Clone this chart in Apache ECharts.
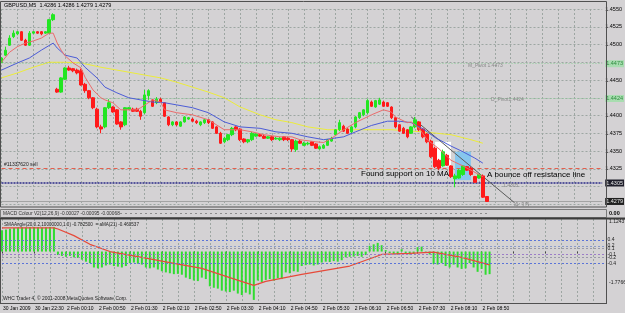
<!DOCTYPE html>
<html><head><meta charset="utf-8">
<script src="https://cdn.jsdelivr.net/npm/echarts@6/dist/echarts.min.js"></script>
<style>html,body{margin:0;padding:0;background:#D4D2D4;}#c{width:625px;height:313px;}</style>
</head><body><div id="c"></div>
<script>
// ---- data ----
const tickLabels = ["30 Jan 2009","30 Jan 22:30","2 Feb 00:10","2 Feb 00:50","2 Feb 01:30","2 Feb 02:10","2 Feb 02:50","2 Feb 03:30","2 Feb 04:10","2 Feb 04:50","2 Feb 05:30","2 Feb 06:10","2 Feb 06:50","2 Feb 07:30","2 Feb 08:10","2 Feb 08:50"];
const opens = [1.4475,1.4485,1.4499,1.4511,1.4515,1.4518,1.4506,1.4499,1.4516,1.4518,
1.4518,1.4516,1.4516,1.4535,1.4437,1.4433,1.4451,1.4467,1.4466,1.4464,
1.4463,1.4444,1.4435,1.4425,1.4409,1.4384,1.4384,1.4411,1.4412,1.4408,
1.4391,1.4387,1.4409,1.4409,1.4409,1.4406,1.4404,1.4428,1.4422,1.4418,
1.4423,1.4418,1.4398,1.4387,1.4391,1.4385,1.4391,1.4395,1.4395,1.4392,
1.4387,1.4390,1.4394,1.4391,1.4384,1.4375,1.4363,1.4366,1.4373,1.4384,
1.4381,1.4367,1.4363,1.4366,1.4371,1.4373,1.4371,1.4368,1.4370,1.4367,
1.4366,1.4370,1.4368,1.4366,1.4352,1.4364,1.4358,1.4360,1.4363,1.4360,
1.4353,1.4354,1.4358,1.4364,1.4373,1.4380,1.4385,1.4381,1.4377,1.4384,
1.4397,1.4401,1.4404,1.4419,1.4412,1.4416,1.4419,1.4418,1.4412,1.4397,
1.4387,1.4382,1.4380,1.4375,1.4384,1.4391,1.4381,1.4374,1.4364,1.4354,
1.4337,1.4329,1.4344,1.4329,1.4311,1.4312,1.4317,1.4328,1.4326,1.4314,
1.4312,1.4315,1.4286];
const closes = [1.4481,1.4492,1.4509,1.4516,1.4518,1.4506,1.4499,1.4516,1.4518,1.4516,
1.4515,1.4518,1.4535,1.4542,1.4433,1.4453,1.4467,1.4464,1.4463,1.4460,
1.4443,1.4435,1.4425,1.4411,1.4384,1.4381,1.4411,1.4418,1.4405,1.4388,
1.4384,1.4411,1.4411,1.4406,1.4406,1.4399,1.4429,1.4435,1.4413,1.4423,
1.4419,1.4399,1.4387,1.4391,1.4387,1.4391,1.4398,1.4397,1.4392,1.4390,
1.4391,1.4394,1.4390,1.4382,1.4375,1.4361,1.4368,1.4373,1.4382,1.4380,
1.4366,1.4363,1.4366,1.4375,1.4374,1.4371,1.4368,1.4370,1.4366,1.4368,
1.4368,1.4366,1.4366,1.4353,1.4364,1.4361,1.4361,1.4361,1.4358,1.4354,
1.4356,1.4358,1.4366,1.4368,1.4380,1.4390,1.4378,1.4375,1.4384,1.4398,
1.4404,1.4408,1.4421,1.4413,1.4421,1.4422,1.4413,1.4413,1.4397,1.4384,
1.4378,1.4375,1.4370,1.4384,1.4394,1.4380,1.4370,1.4363,1.4342,1.4328,
1.4326,1.4349,1.4330,1.4314,1.4315,1.4323,1.4329,1.4323,1.4317,1.4306,
1.4317,1.4285,1.4279];
const lows = [1.4474,1.4484,1.4498,1.4509,1.4513,1.4505,1.4498,1.4498,1.4515,1.4515,
1.4513,1.4515,1.4515,1.4533,1.4432,1.4432,1.4450,1.4463,1.4461,1.4458,
1.4442,1.4432,1.4423,1.4409,1.4382,1.4375,1.4382,1.4409,1.4404,1.4387,
1.4380,1.4385,1.4408,1.4405,1.4405,1.4394,1.4402,1.4422,1.4412,1.4416,
1.4418,1.4398,1.4385,1.4385,1.4385,1.4384,1.4390,1.4394,1.4391,1.4388,
1.4385,1.4388,1.4388,1.4381,1.4374,1.4360,1.4361,1.4364,1.4371,1.4378,
1.4364,1.4361,1.4361,1.4364,1.4370,1.4370,1.4367,1.4367,1.4364,1.4366,
1.4364,1.4364,1.4364,1.4349,1.4349,1.4360,1.4357,1.4358,1.4357,1.4353,
1.4352,1.4353,1.4357,1.4363,1.4371,1.4378,1.4377,1.4374,1.4375,1.4382,
1.4395,1.4399,1.4402,1.4412,1.4411,1.4415,1.4412,1.4412,1.4395,1.4382,
1.4377,1.4374,1.4368,1.4374,1.4382,1.4378,1.4368,1.4361,1.4340,1.4326,
1.4323,1.4328,1.4329,1.4312,1.4299,1.4311,1.4315,1.4322,1.4315,1.4305,
1.4311,1.4284,1.4279];
const highs = [1.4482,1.4497,1.4513,1.4520,1.4519,1.4519,1.4508,1.4519,1.4519,1.4519,
1.4519,1.4519,1.4536,1.4544,1.4439,1.4454,1.4468,1.4470,1.4467,1.4466,
1.4466,1.4446,1.4436,1.4426,1.4411,1.4387,1.4412,1.4423,1.4413,1.4409,
1.4392,1.4412,1.4412,1.4411,1.4411,1.4408,1.4436,1.4437,1.4423,1.4426,
1.4425,1.4419,1.4399,1.4392,1.4392,1.4392,1.4399,1.4398,1.4397,1.4394,
1.4392,1.4395,1.4395,1.4392,1.4385,1.4377,1.4370,1.4374,1.4384,1.4385,
1.4382,1.4368,1.4367,1.4377,1.4375,1.4374,1.4373,1.4371,1.4371,1.4370,
1.4370,1.4371,1.4370,1.4367,1.4366,1.4366,1.4363,1.4363,1.4364,1.4361,
1.4357,1.4360,1.4367,1.4370,1.4381,1.4394,1.4387,1.4382,1.4385,1.4399,
1.4405,1.4409,1.4423,1.4421,1.4422,1.4425,1.4421,1.4419,1.4413,1.4398,
1.4388,1.4384,1.4381,1.4385,1.4398,1.4392,1.4382,1.4375,1.4366,1.4356,
1.4339,1.4352,1.4346,1.4330,1.4318,1.4325,1.4330,1.4329,1.4328,1.4315,
1.4318,1.4317,1.4286];
// moving averages, read at sampled bars [barIndex, price]
const maFast = [[0,1.4475],[2,1.4489],[4,1.4497],[6,1.4502],[8,1.4505],[10,1.4509],[12,1.4516],[13,1.4516],[14,1.4502],[15,1.4492],[16,1.4484],[18,1.4474],[20,1.4467],[21,1.4454],[23,1.4436],[25,1.4425],[26,1.4422],[28,1.4418],[30,1.4408],[34,1.4408],[35,1.4411],[38,1.4422],[40,1.4419],[41,1.4408],[44,1.4404],[48,1.4401],[52,1.4394],[56,1.4380],[60,1.4380],[63,1.4377],[66,1.4373],[70,1.4370],[73,1.4370],[75,1.4366],[79,1.4363],[81,1.4362],[83,1.4368],[86,1.4380],[89,1.4390],[93,1.4401],[96,1.4408],[98,1.4405],[99,1.4398],[102,1.4390],[103,1.4391],[105,1.4382],[107,1.4366],[110,1.4353],[113,1.4337],[116,1.4329],[118,1.4323],[121,1.4314]];
const maSlow = [[0,1.4464],[4,1.4474],[7,1.4481],[10,1.4492],[13,1.4502],[14,1.4495],[16,1.4485],[19,1.4481],[21,1.4468],[24,1.4453],[26,1.4440],[29,1.4432],[32,1.4425],[35,1.4422],[38,1.4419],[41,1.4418],[44,1.4415],[48,1.4411],[52,1.4404],[56,1.4391],[60,1.4384],[65,1.4382],[69,1.4377],[73,1.4375],[77,1.4370],[81,1.4366],[86,1.4370],[89,1.4377],[93,1.4386],[97,1.4392],[100,1.4392],[103,1.4390],[106,1.4381],[109,1.4369],[113,1.4357],[116,1.4349],[119,1.4340],[121,1.4333]];
const maLong = [[0,1.4453],[4,1.4460],[8,1.4468],[12,1.4475],[16,1.4475],[20,1.4474],[25,1.4468],[29,1.4464],[33,1.4460],[37,1.4456],[40,1.4453],[44,1.4447],[48,1.4440],[52,1.4433],[56,1.4425],[60,1.4412],[65,1.4401],[69,1.4394],[73,1.4390],[77,1.4384],[82,1.4380],[91,1.4380],[98,1.4380],[106,1.4377],[113,1.4373],[118,1.4366],[121,1.4361]];
// SMAAngle histogram and its MA(21)
const smaAngle = [0.74,0.76,0.79,0.81,0.83,0.84,0.83,0.84,0.85,0.84,0.83,0.84,0.85,0.84,
-0.12,-0.15,-0.18,-0.15,-0.2,-0.22,-0.28,-0.35,-0.4,-0.55,-0.58,-0.55,-0.48,-0.45,-0.5,-0.52,-0.55,-0.5,-0.4,-0.38,-0.42,-0.45,-0.55,-0.58,-0.55,-0.62,-0.68,-0.72,-0.75,-0.78,-0.77,-0.8,-0.9,-0.95,-1.0,-1.02,
-0.9,-0.95,-1.2,-1.25,-1.28,-1.35,-1.38,-1.4,-1.35,-1.45,-1.5,-1.42,-1.48,-1.67,-1.0,-1.05,-0.98,-0.95,-1.0,-0.92,-0.95,-0.72,-0.75,-0.68,-0.7,-0.5,-0.47,-0.45,-0.48,-0.45,-0.38,-0.35,-0.36,-0.33,-0.35,-0.3,-0.2,-0.18,-0.17,-0.15,-0.18,-0.12,0.2,0.25,0.3,0.22,0.05,-0.05,-0.08,
-0.1,0.08,-0.05,-0.1,-0.08,0.15,0.17,-0.05,-0.1,-0.43,-0.45,-0.4,-0.5,-0.55,-0.45,-0.55,-0.6,-0.58,-0.4,-0.55,-0.7,-0.6,-0.8,-0.78];
const smaAngleMa = [[0,0.82],[13,0.82],[14,0.78],[18,0.55],[22,0.25],[27,0.0],[35,-0.2],[42,-0.38],[50,-0.58],[57,-0.9],[63,-1.17],[66,-1.03],[75,-0.79],[87,-0.5],[95,-0.1],[102,-0.06],[108,-0.02],[115,-0.2],[122,-0.46]];
const indLevels = [0.4,0.2,0.1,-0.1,-0.2,-0.4];
const indMax = 1.124377, indMin = -1.77663;
const mPivot = 1.4473, dPivot = 1.4424, orderPrice = 1.4326, hLine = 1.4305, bidPrice = 1.4279;
const trendLine = [[103,1.4398],[129,1.4277]];
const cornerLine = [[0,1.4532],[7,1.4556]];
const whiteZone = [[109,1.4363],[113,1.4328]];
const blueZone = [[114,1.4349],[118,1.4309]];

// ---- chart ----
const N = 152;
const cats = Array.from({length:N},(_,i)=>String(i));
const candles = opens.map((o,i)=>[o, closes[i], lows[i], highs[i]]);
const FONT = 'Liberation Sans';
const gridLine = {color:'#9DA6A2', type:[2,2], width:1};
const levelColors = ['#5B74D8','#8A9AC8','#9A9AA8','#9C7CC8','#9A9AA8','#5B74D8'];
const hide = [1.4475,1.4425,1.43,1.4275];

const chart = echarts.init(document.getElementById('c'), null, {renderer:'canvas'});
const txt = (x,y,t,fs,col,weight)=>({type:'text', z:100, x:x, y:y, style:{text:t, fontSize:fs, fontFamily:FONT, fontWeight:weight||'normal', fill:col||'#000', textVerticalAlign:'middle'}});
const boxLabel = (v,fg,bg)=>({show:true, position:'end', distance:3, formatter:v.toFixed(4), fontSize:5.5, color:fg, backgroundColor:bg, padding:[1,1,0,1]});
chart.setOption({
  animation:false,
  backgroundColor:'#D4D2D4',
  textStyle:{fontFamily:FONT},
  grid:[
    {left:1.5, right:19.5, top:9, height:195.3},
    {left:1.5, right:19.5, top:219, height:84}
  ],
  xAxis:[
    {type:'category', gridIndex:0, data:cats, boundaryGap:false,
     axisLabel:{show:false}, axisTick:{show:false}, axisLine:{show:false},
     splitLine:{show:true, interval:3, lineStyle:gridLine}},
    {type:'category', gridIndex:1, data:cats, boundaryGap:false,
     axisLabel:{interval:7, formatter:(v,i)=>tickLabels[i/8]||'', align:'left', fontSize:5, color:'#000', margin:3, padding:[0,0,0,1]},
     axisTick:{show:true, interval:7, length:2, lineStyle:{color:'#444'}}, axisLine:{show:false},
     splitLine:{show:true, interval:3, lineStyle:gridLine}}
  ],
  yAxis:[
    {type:'value', gridIndex:0, position:'right', min:1.4275, max:1.4550, interval:0.0025,
     axisLabel:{fontSize:5.5, color:'#000', margin:3, formatter:v=>hide.some(h=>Math.abs(h-v)<1e-6)?'':v.toFixed(4)},
     axisTick:{show:false}, axisLine:{show:false}, splitLine:{show:true, lineStyle:gridLine}},
    {type:'value', gridIndex:1, position:'right', min:indMin, max:indMax,
     axisLabel:{show:false}, axisTick:{show:false}, axisLine:{show:false}, splitLine:{show:false}}
  ],
  series:[
    {type:'line', name:'MA long', xAxisIndex:0, yAxisIndex:0, data:maLong, showSymbol:false, z:3,
     lineStyle:{color:'#ECEC3A', width:1},
     markArea:{silent:true, data:[
       [{xAxis:whiteZone[0][0], yAxis:whiteZone[0][1], itemStyle:{color:'#FFFFFF'}},{xAxis:whiteZone[1][0], yAxis:whiteZone[1][1]}],
       [{xAxis:blueZone[0][0], yAxis:blueZone[0][1], itemStyle:{color:'#86C6EE'}},{xAxis:blueZone[1][0], yAxis:blueZone[1][1]}]
     ]},
     markLine:{silent:true, symbol:'none', precision:5, animation:false, data:[
       {yAxis:mPivot, lineStyle:{color:'#8FCF9A', type:[1,2], width:1}, label:boxLabel(mPivot,'#2E8B3E','#A8DDB0')},
       {yAxis:dPivot, lineStyle:{color:'#8FCF9A', type:[1,2], width:1}, label:boxLabel(dPivot,'#2E8B3E','#A8DDB0')},
       {yAxis:orderPrice, lineStyle:{color:'#E4604E', type:[4,3], width:1}, label:{show:false}},
       {yAxis:hLine, lineStyle:{color:'#2B2B88', type:[2,1], width:1.5}, label:boxLabel(hLine,'#E8E8E8','#1E1E2A')},
       {yAxis:bidPrice, lineStyle:{color:'#A4A4A4', type:'solid', width:1}, label:boxLabel(bidPrice,'#E8E8E8','#202020')},
       [{coord:trendLine[0], lineStyle:{color:'#5A5A5A', type:'solid', width:1}, label:{show:false}},{coord:trendLine[1]}],
       [{coord:cornerLine[0], lineStyle:{color:'#4A4A4A', type:'solid', width:1}, label:{show:false}},{coord:cornerLine[1]}]
     ]}},
    {type:'candlestick', name:'GBPUSD', xAxisIndex:0, yAxisIndex:0, data:candles, barWidth:3, z:5,
     itemStyle:{color:'#22E622', color0:'#FF1A1A', borderColor:'#22E622', borderColor0:'#FF1A1A', borderWidth:1}},
    {type:'line', name:'MA slow', xAxisIndex:0, yAxisIndex:0, data:maSlow, showSymbol:false, z:6,
     lineStyle:{color:'#4C5CD6', width:1}},
    {type:'line', name:'MA fast', xAxisIndex:0, yAxisIndex:0, data:maFast, showSymbol:false, z:6,
     lineStyle:{color:'#EA6C6C', width:1}},
    {type:'bar', name:'SMAAngle', xAxisIndex:1, yAxisIndex:1, data:smaAngle, barWidth:2, z:3,
     itemStyle:{color:'#30DC30'},
     markLine:{silent:true, symbol:'none', precision:5, data:indLevels.map((v,k)=>({yAxis:v,
        lineStyle:{color:levelColors[k], type:[2,2], width:1},
        label:{show:true, position:'end', distance:2, formatter:String(v), fontSize:5, color:'#222'}}))}},
    {type:'line', name:'MA(21)', xAxisIndex:1, yAxisIndex:1, data:smaAngleMa, showSymbol:false, z:4,
     lineStyle:{color:'#E64A3A', width:1.2}}
  ],
  graphic:[
    {type:'rect', z:90, shape:{x:0.5, y:1.5, width:606, height:205.5}, style:{fill:null, stroke:'#505050', lineWidth:1}},
    {type:'rect', z:90, shape:{x:0.5, y:209.5, width:606, height:8}, style:{fill:null, stroke:'#7A7A7A', lineWidth:1}},
    {type:'line', z:90, shape:{x1:0, y1:218.5, x2:625, y2:218.5}, style:{stroke:'#3C3C3C', lineWidth:2}},
    {type:'line', z:90, shape:{x1:0, y1:303.5, x2:607, y2:303.5}, style:{stroke:'#505050', lineWidth:1}},
    {type:'line', z:90, shape:{x1:606.5, y1:219, x2:606.5, y2:304}, style:{stroke:'#505050', lineWidth:1}},
    {type:'line', z:90, shape:{x1:0.5, y1:219, x2:0.5, y2:304}, style:{stroke:'#505050', lineWidth:1}},
    {type:'line', z:90, shape:{x1:120, y1:213.5, x2:490, y2:213.5}, style:{stroke:'#8C8C8C', lineWidth:1, lineDash:[2,3]}},
    txt(4,5,'GBPUSD,M5  1.4286 1.4286 1.4279 1.4279',5.5,'#000'),
    txt(4,165,'#11337620 sell',5,'#222'),
    txt(468,66,'M_Pivot 1.4473',5,'#8A8A8A'),
    txt(491,100,'D_Pivot1.4424',5,'#8A8A8A'),
    txt(361,174,'Found support on 10 MA',8,'#000'),
    txt(487,175,'A bounce off resistance line',8,'#000'),
    txt(503,186,'1.4305',5,'#8A8A8A'),
    txt(514,205,'4:15',8,'#8A8A8A'),
    txt(3,213.5,'MACD Colour V2(12,26,9) -0.00027 -0.00095 -0.00068',4.8,'#333'),
    txt(609,213.5,'0.00',5.5,'#000','bold'),
    txt(4,225,'SMAAngle(20,0.2,10000000,1.0) -0.782500  = aMA(21) -0.460537',4.6,'#222'),
    txt(609,221.5,indMax.toFixed(6),5,'#222'),
    txt(609,283,String(indMin),5,'#222'),
    txt(3,299,'WHC Trader 4, \u00a9 2001-2008 MetaQuotes Software Corp.',4.9,'#222')
  ]
});
</script></body></html>
